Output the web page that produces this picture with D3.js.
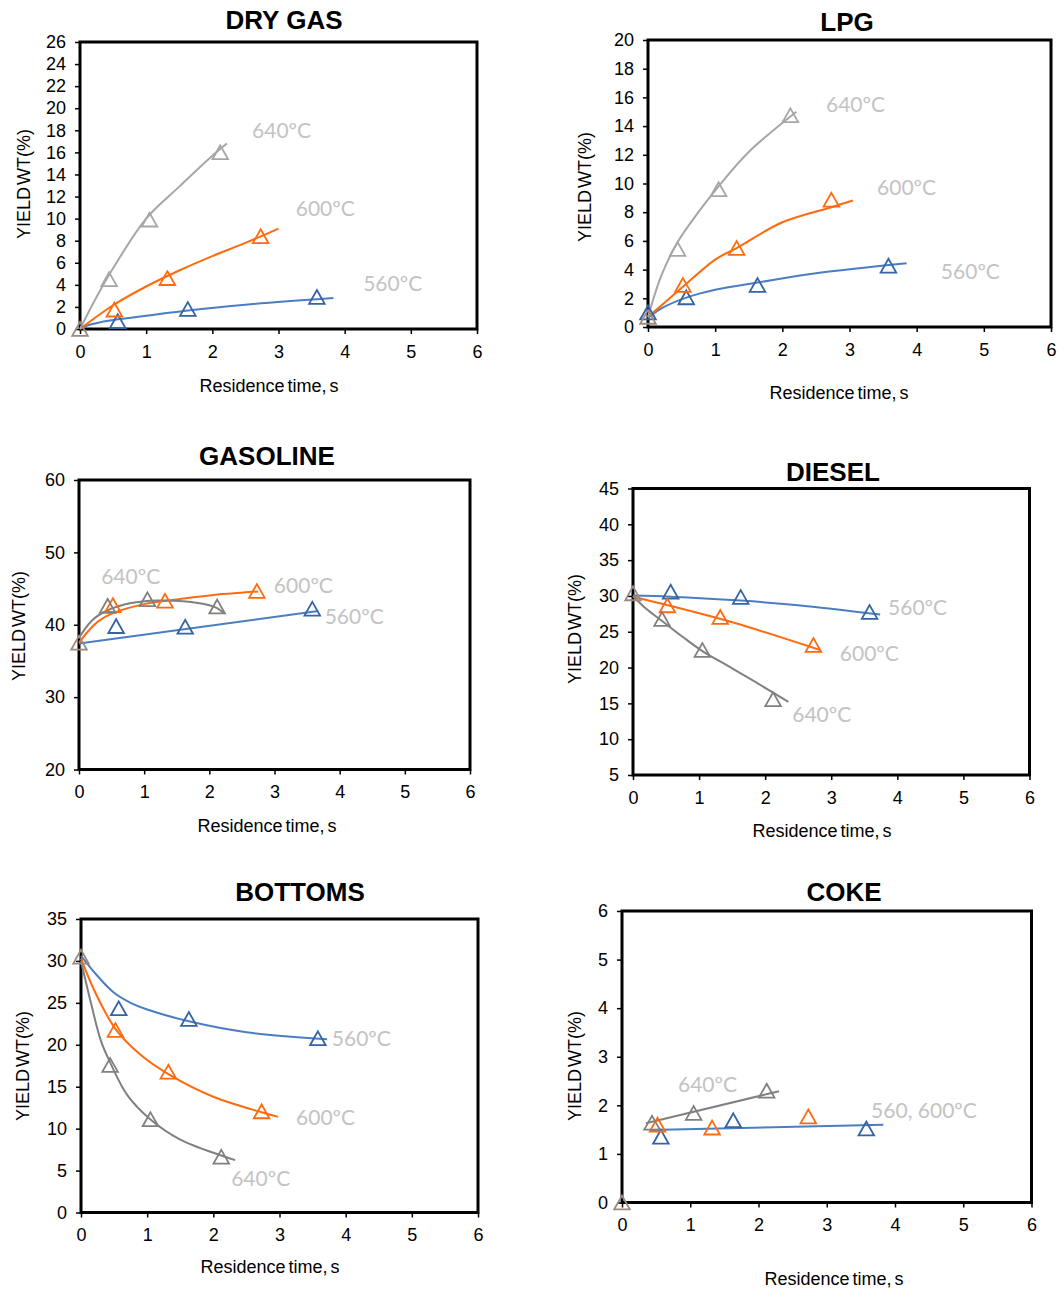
<!DOCTYPE html>
<html><head><meta charset="utf-8">
<script src="https://cdn.jsdelivr.net/npm/d3@7"></script>
<style>body{margin:0;background:#fff}svg{display:block}</style>
</head><body>
<script>
// ---------------- DATA ----------------
const panelTitles = ["DRY GAS", "LPG", "GASOLINE", "DIESEL", "BOTTOMS", "COKE"];
const xTicks = [0, 1, 2, 3, 4, 5, 6];
const time560 = [0.57, 1.63, 3.58];
const time600 = [0.52, 1.32, 2.73];
const time640 = [0.44, 1.05, 2.12];
const feedYield = [0, 0.7, 37.5, 30.35, 30.5, 0];   // t = 0 point of each panel

const dryGas560 = [0.7, 1.8, 2.9];
const dryGas600 = [1.75, 4.6, 8.4];
const dryGas640 = [4.5, 9.9, 16.0];
const lpg560 = [2.06, 2.92, 4.27];
const lpg600 = [2.92, 5.5, 8.86];
const lpg640 = [5.43, 9.6, 14.75];
const lpgFeed560 = 1.0;
const gasoline560 = [39.8, 39.7, 42.2];
const gasoline600 = [42.7, 43.3, 44.65];
const gasoline640 = [42.6, 43.5, 42.5];
const diesel560 = [30.58, 29.84, 27.74];
const diesel600 = [28.67, 27.05, 23.14];
const diesel640 = [26.77, 22.44, 15.56];
const bottoms560 = [24.34, 23.07, 20.76];
const bottoms600 = [21.75, 16.78, 12.05];
const bottoms640 = [17.58, 11.1, 6.64];
const coke560 = [1.35, 1.69, 1.52];
const coke600 = [1.6, 1.54, 1.77];
const coke640 = [1.64, 1.84, 2.30];

// trend lines: [time, yield]
const dryGasFit560 = [[0,0],[0.1,0.3],[0.3,0.6],[0.6,0.9],[1,1.2],[1.6,1.65],[2.5,2.2],[3.83,2.8]];
const dryGasFit600 = [[0,0],[0.5,2.15],[1,3.85],[1.5,5.3],[2,6.6],[2.5,7.8],[3.0,9.1]];
const dryGasFit640 = [[0,0],[0.25,2.9],[0.5,5.5],[1,10.0],[1.5,12.9],[2,15.7],[2.22,16.8]];
const lpgFit560 = [[0,0.63],[0.2,1.3],[0.57,2.05],[1,2.6],[1.63,3.1],[2.5,3.75],[3.85,4.45]];
const lpgFit600 = [[0,0.7],[0.25,1.7],[0.52,2.8],[1,4.7],[1.32,5.5],[2,7.3],[2.73,8.35],[3.05,8.82]];
const lpgFit640 = [[0,0.7],[0.2,3.6],[0.44,5.9],[0.75,8.0],[1.05,9.8],[1.5,12.2],[2.21,15.0]];
const gasolineFit560 = [[0,37.4],[3.67,41.9]];
const gasolineFit600 = [[0,37.5],[0.15,39.2],[0.3,40.5],[0.52,41.6],[1,42.85],[1.5,43.5],[2,44.05],[2.75,44.6]];
const gasolineFit640 = [[0,38.2],[0.2,40.6],[0.44,42.0],[0.8,43.0],[1.2,43.35],[1.6,43.25],[2.0,42.7],[2.12,42.3],[2.22,41.6]];
const dieselFit560 = [[0,30.05],[0.57,29.9],[1.63,29.35],[2.5,28.7],[3.74,27.4]];
const dieselFit600 = [[0,29.9],[1.4,26.6],[2.83,22.45]];
const dieselFit640 = [[0,30.0],[0.2,28.2],[0.44,26.5],[0.75,24.3],[1.05,22.3],[1.5,19.9],[2.12,16.5],[2.35,15.2]];
const bottomsFit560 = [[0,30.6],[0.25,28.2],[0.5,26.2],[0.75,25.0],[1,24.2],[1.63,22.8],[2.5,21.5],[3.72,20.65]];
const bottomsFit600 = [[0,30.3],[0.2,26.5],[0.52,21.9],[0.9,18.8],[1.32,16.5],[2.0,13.8],[2.73,11.95],[2.98,11.4]];
const bottomsFit640 = [[0,30.0],[0.15,25.0],[0.3,20.5],[0.44,17.9],[0.7,14.0],[1.05,11.1],[1.5,8.7],[2.12,6.8],[2.33,6.25]];
const cokeFit560 = [[0.43,1.49],[3.83,1.6]];
const cokeFit600 = [];
const cokeFit640 = [[0.35,1.63],[2.3,2.29]];

const yTicksDryGas = [0,2,4,6,8,10,12,14,16,18,20,22,24,26];
const yTicksLpg = [0,2,4,6,8,10,12,14,16,18,20];
const yTicksGasoline = [20,30,40,50,60];
const yTicksDiesel = [5,10,15,20,25,30,35,40,45];
const yTicksBottoms = [0,5,10,15,20,25,30,35];
const yTicksCoke = [0,1,2,3,4,5,6];

// series labels: [text, time, yield] (anchor = left/middle of the text)
const labelsDryGas = [["640ºC",2.60,18.0],["600ºC",3.26,10.96],["560ºC",4.28,4.17]];
const labelsLpg = [["640ºC",2.65,15.54],["600ºC",3.41,9.76],["560ºC",4.36,3.90]];
const labelsGasoline = [["640ºC",0.34,46.73],["600ºC",2.99,45.48],["560ºC",3.77,41.2]];
const labelsDiesel = [["560ºC",3.86,28.46],["600ºC",3.13,22.03],["640ºC",2.41,13.52]];
const labelsBottoms = [["560ºC",3.79,20.81],["600ºC",3.25,11.39],["640ºC",2.27,4.11]];
const labelsCoke = [["640ºC",0.82,2.44],["560, 600ºC",3.65,1.90]];

// ---------------- LAYOUT ----------------
const layout = [
  {x0:80, x1:477, y0:42, y1:329, tx:284, ty:20, ylx:24, yly:184, xlx:269, xly:386, gray:"#a6a6a6"},
  {x0:648, x1:1051, y0:40, y1:327, tx:847, ty:22, ylx:585, yly:187, xlx:839, xly:393, gray:"#a6a6a6"},
  {x0:79, x1:470, y0:480, y1:769.5, tx:267, ty:456, ylx:19, yly:626, xlx:267, xly:826, gray:"#808080"},
  {x0:633, x1:1029.5, y0:488.5, y1:775, tx:833, ty:472, ylx:575, yly:629, xlx:822, xly:831, gray:"#808080"},
  {x0:81, x1:478, y0:919, y1:1212.5, tx:300, ty:892, ylx:23, yly:1066, xlx:270, xly:1267, gray:"#808080"},
  {x0:622, x1:1031.5, y0:911, y1:1202.5, tx:844, ty:892, ylx:575, yly:1066, xlx:834, xly:1279, gray:"#808080"}
];

const yTicks = [yTicksDryGas, yTicksLpg, yTicksGasoline, yTicksDiesel, yTicksBottoms, yTicksCoke];
const vals560 = [dryGas560, lpg560, gasoline560, diesel560, bottoms560, coke560];
const vals600 = [dryGas600, lpg600, gasoline600, diesel600, bottoms600, coke600];
const vals640 = [dryGas640, lpg640, gasoline640, diesel640, bottoms640, coke640];
const fits560 = [dryGasFit560, lpgFit560, gasolineFit560, dieselFit560, bottomsFit560, cokeFit560];
const fits600 = [dryGasFit600, lpgFit600, gasolineFit600, dieselFit600, bottomsFit600, cokeFit600];
const fits640 = [dryGasFit640, lpgFit640, gasolineFit640, dieselFit640, bottomsFit640, cokeFit640];
const labels = [labelsDryGas, labelsLpg, labelsGasoline, labelsDiesel, labelsBottoms, labelsCoke];

const BLUE_LINE = "#4a7ec2", BLUE_MK = "#3563a5";
const ORANGE = "#ff6a0d";
const FEED = "#9c8a7f";
const LABEL_GRAY = "#c3c3c3";
const FONT = "'Liberation Sans', Arial, sans-serif";

const svg = d3.select("body").append("svg").attr("width", 1061).attr("height", 1293)
  .style("font-family", FONT);

const tri = "M0,-7 L7.8,6.8 L-7.8,6.8 Z";
const fmt = d3.format("d");

panelTitles.forEach((title, i) => {
  const L = layout[i];
  const yt = yTicks[i];
  const x = d3.scaleLinear().domain([0, 6]).range([L.x0, L.x1]);
  const y = d3.scaleLinear().domain([yt[0], yt[yt.length - 1]]).range([L.y1, L.y0]);
  const g = svg.append("g");

  // axes
  const ax = g.append("g").attr("transform", `translate(0,${L.y1})`)
    .call(d3.axisBottom(x).tickValues(xTicks).tickFormat(fmt).tickSize(5).tickSizeOuter(0).tickPadding(11));
  const ay = g.append("g").attr("transform", `translate(${L.x0},0)`)
    .call(d3.axisLeft(y).tickValues(yt).tickFormat(fmt).tickSize(5).tickSizeOuter(0).tickPadding(9));
  [ax, ay].forEach(a => {
    a.select(".domain").remove();
    a.selectAll(".tick line").attr("stroke", "#000").attr("stroke-width", 1.5);
    a.selectAll(".tick text").attr("fill", "#000").style("font-size", "18px").style("font-family", FONT);
  });

  // frame
  g.append("rect").attr("x", L.x0).attr("y", L.y0)
    .attr("width", L.x1 - L.x0).attr("height", L.y1 - L.y0)
    .attr("fill", "none").attr("stroke", "#000").attr("stroke-width", 3);

  // title
  g.append("text").attr("x", L.tx).attr("y", L.ty).attr("dy", "0.36em")
    .attr("text-anchor", "middle").style("font-size", "26px").style("font-weight", "bold")
    .text(title);
  // y label
  g.append("text").attr("transform", `translate(${L.ylx},${L.yly}) rotate(-90)`)
    .attr("dy", "0.35em").attr("text-anchor", "middle").style("font-size", "18px")
    .style("word-spacing", "-3px").text("YIELD WT(%)");
  // x label
  g.append("text").attr("x", L.xlx).attr("y", L.xly).attr("dy", "0.35em")
    .attr("text-anchor", "middle").style("font-size", "18px").style("word-spacing", "-2px")
    .text("Residence time, s");

  const line = d3.line().x(d => x(d[0])).y(d => y(d[1])).curve(d3.curveCatmullRom.alpha(0.5));

  const series = [
    {t: time560, v: vals560[i], fit: fits560[i], line: BLUE_LINE, mk: BLUE_MK},
    {t: time600, v: vals600[i], fit: fits600[i], line: ORANGE, mk: ORANGE},
    {t: time640, v: vals640[i], fit: fits640[i], line: L.gray, mk: L.gray}
  ];
  series.forEach(s => {
    if (s.fit.length) g.append("path").attr("d", line(s.fit)).attr("fill", "none")
      .attr("stroke", s.line).attr("stroke-width", 2);
  });
  if (i === 1) {
    g.append("path").attr("d", tri).attr("transform", `translate(${x(0)},${y(lpgFeed560)})`)
      .attr("fill", "none").attr("stroke", BLUE_MK).attr("stroke-width", 1.8);
  }
  series.forEach(s => {
    g.selectAll(null).data(s.t.map((t, k) => [t, s.v[k]])).enter().append("path")
      .attr("d", tri).attr("transform", d => `translate(${x(d[0])},${y(d[1])})`)
      .attr("fill", "none").attr("stroke", s.mk).attr("stroke-width", 1.8);
  });
  g.append("path").attr("d", tri).attr("transform", `translate(${x(0)},${y(feedYield[i])})`)
    .attr("fill", "none").attr("stroke", FEED).attr("stroke-width", 1.8);

  labels[i].forEach(l => {
    g.append("text").attr("x", x(l[1])).attr("y", y(l[2])).attr("dy", "0.36em")
      .style("font-family", "Lato, 'Open Sans', sans-serif").style("font-size", "21px")
      .attr("fill", LABEL_GRAY).text(l[0]);
  });
});
</script>
</body></html>
